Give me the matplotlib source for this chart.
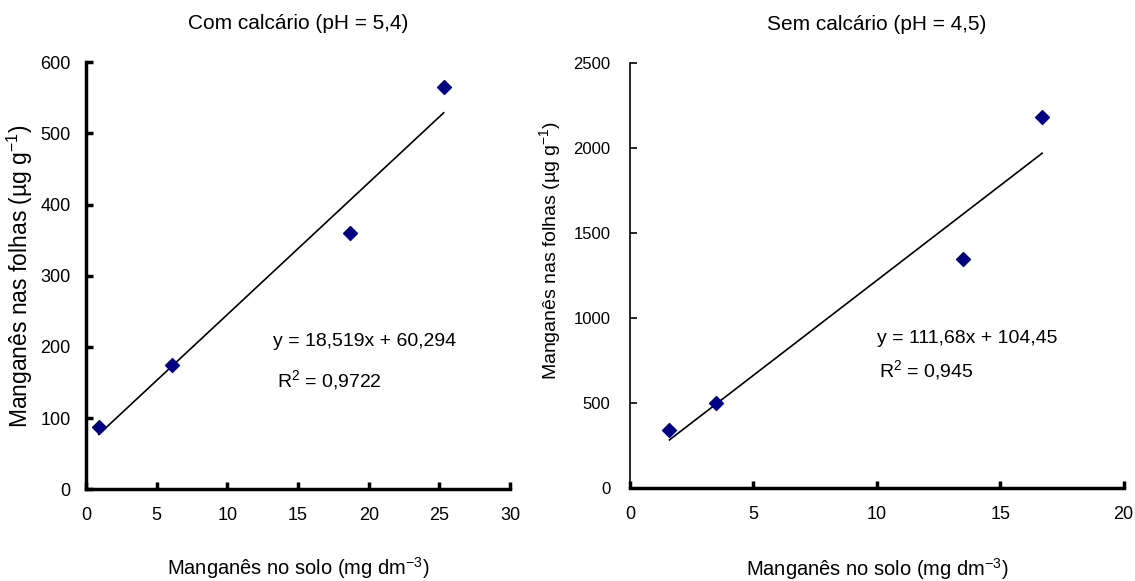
import numpy as np
import matplotlib
matplotlib.use('Agg')
import matplotlib.pyplot as plt

plt.rcParams['font.family'] = ['Liberation Sans', 'DejaVu Sans']
plt.rcParams['mathtext.fontset'] = 'custom'
plt.rcParams['mathtext.rm'] = 'Liberation Sans'
plt.rcParams['mathtext.it'] = 'Liberation Sans:italic'

# Data
x_com = [0.9, 6.1, 18.7, 25.3]
y_com = [88, 175, 360, 565]
x_sem = [1.6, 3.5, 13.5, 16.7]
y_sem = [340, 500, 1350, 2180]

fit_com = (18.519, 60.294)
fit_sem = (111.68, 104.45)

titles = ['Com calcário (pH = 5,4)', 'Sem calcário (pH = 4,5)']
eqs = ['y = 18,519x + 60,294', 'y = 111,68x + 104,45']
r2s = ['R$^2$ = 0,9722', 'R$^2$ = 0,945']

fig = plt.figure(figsize=(11.35, 5.81), dpi=100)
ax1 = fig.add_axes([0.0758, 0.158, 0.3736, 0.735])
ax2 = fig.add_axes([0.555, 0.160, 0.435, 0.7315])

# ax, x, y, fit, xrange, yrange, eq pos, r2 pos, xlabel y, ylabel pos, ylabel size, ytick size, ytick pad, left spine width
panels = [
    (ax1, x_com, y_com, fit_com, (0, 30, 5), (0, 600, 100), (13.2, 208), (13.5, 153), -0.155, (-0.12, 0.5), 16.5, 13, 11, 2.5),
    (ax2, x_sem, y_sem, fit_sem, (0, 20, 5), (0, 2500, 500), (10.0, 882), (10.1, 694), -0.16, (-0.136, 0.558), 14, 12, 14, 1.2),
]

for i, (ax, xs, ys, fit, xr, yr, eq_pos, r2_pos, xl_y, yl_pos, yl_fs, yt_fs, yt_pad, lw_left) in enumerate(panels):
    xf = np.array([min(xs), max(xs)])
    ax.plot(xf, fit[0] * xf + fit[1], color='black', lw=1.2, zorder=2)
    ax.scatter(xs, ys, marker='D', s=50, color='#000080', zorder=3)
    ax.set_xlim(xr[0], xr[1])
    ax.set_ylim(yr[0], yr[1])
    ax.set_xticks(np.arange(xr[0], xr[1] + 1, xr[2]))
    ax.set_yticks(np.arange(yr[0], yr[1] + 1, yr[2]))
    ax.spines['top'].set_visible(False)
    ax.spines['right'].set_visible(False)
    ax.spines['left'].set_linewidth(lw_left)
    ax.spines['bottom'].set_linewidth(2.5)
    ax.tick_params(axis='x', direction='in', length=5, width=2.5, labelsize=13, pad=13)
    ax.tick_params(axis='y', direction='in', length=5, width=lw_left, labelsize=yt_fs, pad=yt_pad)
    ax.set_title(titles[i], fontsize=15, pad=24)
    ax.set_ylabel('Manganês nas folhas (µg g$^{-1}$)', fontsize=yl_fs)
    ax.set_xlabel('Manganês no solo (mg dm$^{-3}$)', fontsize=14.5)
    ax.xaxis.set_label_coords(0.5, xl_y)
    ax.yaxis.set_label_coords(*yl_pos)
    ax.text(eq_pos[0], eq_pos[1], eqs[i], fontsize=14, va='center')
    ax.text(r2_pos[0], r2_pos[1], r2s[i], fontsize=14, va='center')

fig.savefig('out.png', dpi=100)
